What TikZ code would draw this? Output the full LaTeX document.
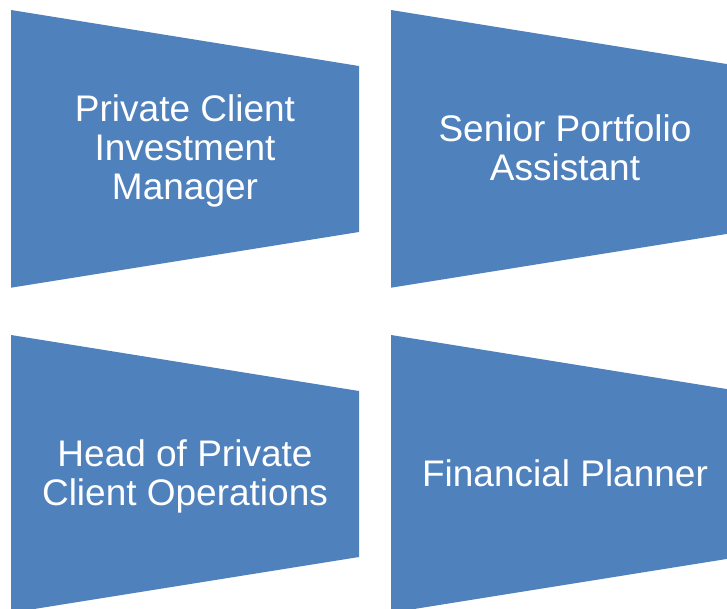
\documentclass[tikz,border=0pt]{standalone}
\usepackage{fontspec}
\setmainfont{Liberation Sans}
\definecolor{tileblue}{HTML}{4F81BD}
\tikzset{
  tile/.style={fill=tileblue, draw=none},
  tilelabel/.style={text=white, align=center, inner sep=0pt,
    font=\fontsize{37}{39}\selectfont}
}
\begin{document}
\begin{tikzpicture}[x=1pt,y=-1pt]
  \useasboundingbox (0,0) rectangle (727,608);
  \clip (0,0) rectangle (727,608);
  % four tapering tiles, each 348 wide, left edge 277.7 tall, right edge 166 tall
  \foreach \x/\y in {11/10, 391/10, 11/335, 391/335}{
    \fill[tile] (\x,\y) -- ++(348,56) -- ++(0,166) -- (\x,\y+277.7) -- cycle;
  }
  \node[tilelabel] (pcim) at (185,150.5) {Private Client\\Investment\\Manager};
  \node[tilelabel] (spa)  at (565,148) {Senior Portfolio\\Assistant};
  \node[tilelabel] (hpco) at (185,476) {Head of Private\\Client Operations};
  \node[tilelabel] (fp)   at (565,473) {Financial Planner};
\end{tikzpicture}
\end{document}
